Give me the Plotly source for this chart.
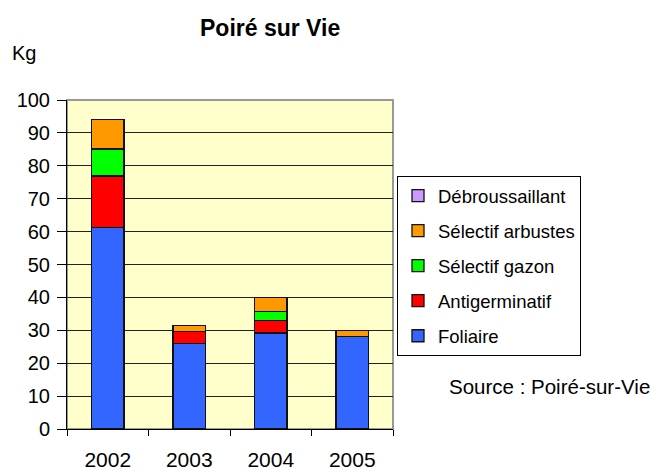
import plotly.graph_objects as go

years = ["2002", "2003", "2004", "2005"]
foliaire = [61.2, 26.0, 29.2, 28.2]
antigerminatif = [15.7, 3.7, 3.7, 0]
selectif_gazon = [8.2, 0, 2.8, 0]
selectif_arbustes = [9.0, 1.7, 4.2, 1.8]
debroussaillant = [0, 0, 0, 0]

series = [
    ("Foliaire", foliaire, "#3366FF"),
    ("Antigerminatif", antigerminatif, "#FF0000"),
    ("Sélectif gazon", selectif_gazon, "#00FF00"),
    ("Sélectif arbustes", selectif_arbustes, "#FF9900"),
    ("Débroussaillant", debroussaillant, "#CC99FF"),
]

fig = go.Figure()
n = len(series)
for i, (name, vals, col) in enumerate(series):
    fig.add_trace(go.Bar(
        x=years, y=vals, name=name, legendgroup=name, legendrank=n - i,
        marker=dict(color=col, line=dict(color="#111111", width=1.3)),
        width=0.4,
    ))

font = "Liberation Sans, Arial, sans-serif"
L, R, T, B = 67, 393, 100, 429
pw, ph = R - L, B - T
fig.update_layout(
    width=656, height=471,
    barmode="stack",
    paper_bgcolor="white",
    plot_bgcolor="#FFFFCC",
    margin=dict(l=L, r=656 - R, t=T, b=471 - B),
    font=dict(family=font, size=20, color="black"),
    showlegend=True,
    legend=dict(
        traceorder="grouped", tracegroupgap=8,
        x=(397 - L) / pw, xanchor="left", y=(B - 176) / ph, yanchor="top",
        bordercolor="black", borderwidth=1, bgcolor="white",
        font=dict(family=font, size=18.5),
        itemwidth=30,
    ),
    xaxis=dict(
        showgrid=False, showline=True, linecolor="black", linewidth=1,
        ticks="outside", ticklen=6, tickcolor="black", tickson="boundaries",
        ticklabelstandoff=12, automargin=False,
        tickfont=dict(size=21),
    ),
    yaxis=dict(
        range=[0, 100], dtick=10, showgrid=True, gridcolor="#222222", gridwidth=1,
        showline=True, linecolor="black", linewidth=1,
        ticks="outside", ticklen=9, tickcolor="black",
        ticklabelstandoff=3, zeroline=False, automargin=False,
        tickfont=dict(size=20),
    ),
    shapes=[dict(type="rect", xref="paper", yref="paper", x0=0, x1=1, y0=0, y1=1,
                 line=dict(color="#999999", width=2), layer="below", fillcolor="rgba(0,0,0,0)")],
    annotations=[
        dict(text="<b>Poiré sur Vie</b>", xref="paper", yref="paper", x=(270 - L) / pw, y=(B - 28) / ph,
             xanchor="center", yanchor="middle", showarrow=False, font=dict(size=23)),
        dict(text="Kg", xref="paper", yref="paper", x=(24 - L) / pw, y=(B - 52.5) / ph,
             xanchor="center", yanchor="middle", showarrow=False, font=dict(size=20)),
        dict(text="Source : Poiré-sur-Vie", xref="paper", yref="paper", x=(447 - L) / pw, y=(B - 386.5) / ph,
             xanchor="left", yanchor="middle", showarrow=False, font=dict(size=20.5)),
    ],
)

fig.write_html("out.html", config={"displayModeBar": False},
               post_script="document.body.style.margin='0';document.body.style.overflow='hidden';")
